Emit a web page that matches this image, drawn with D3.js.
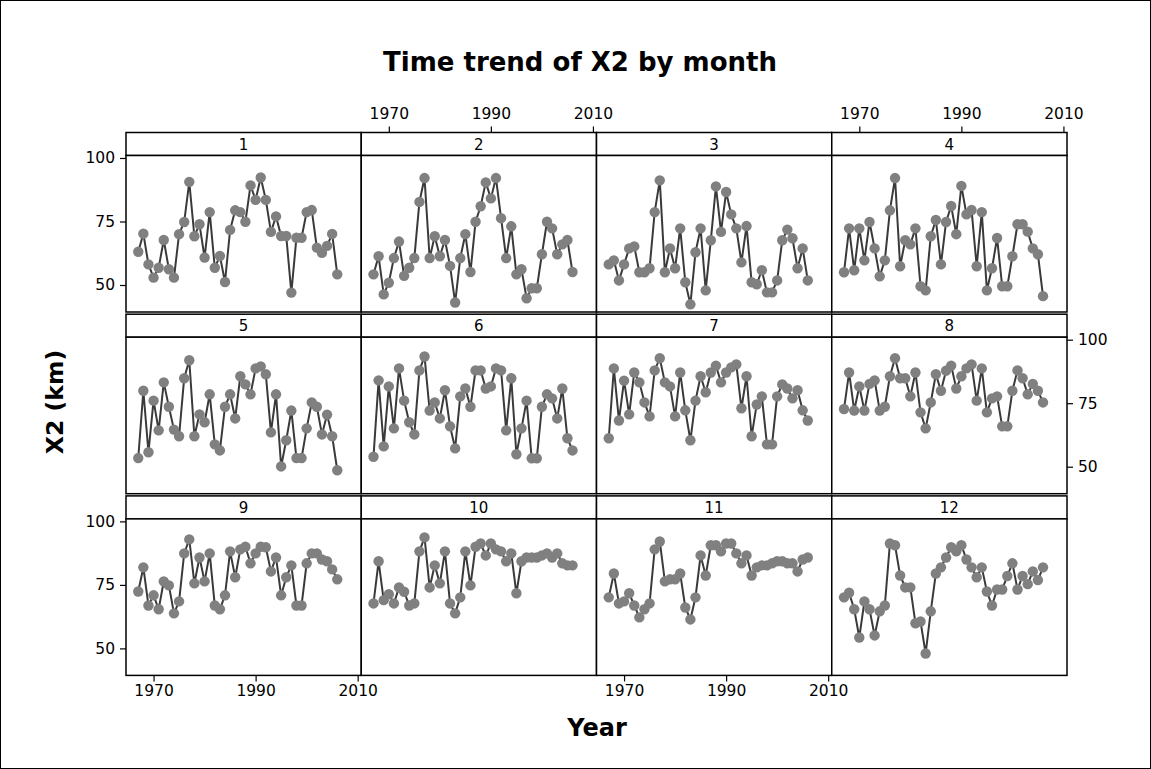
<!DOCTYPE html>
<html><head><meta charset="utf-8">
<script src="https://cdn.jsdelivr.net/npm/d3@7"></script>
<style>body{margin:0;background:#fff}svg{display:block}text{font-family:"DejaVu Sans",Verdana,sans-serif}</style>
</head><body><svg id="c" width="1151" height="769"></svg>
<script>
const years = [1967,1968,1969,1970,1971,1972,1973,1974,1975,1976,1977,1978,1979,1980,1981,1982,1983,1984,1985,1986,1987,1988,1989,1990,1991,1992,1993,1994,1995,1996,1997,1998,1999,2000,2001,2002,2003,2004,2005,2006];
const months = ["1","2","3","4","5","6","7","8","9","10","11","12"];
const m1 = [63.1,70.2,58.1,52.9,56.8,67.7,56.2,52.9,70.0,74.8,90.6,69.2,73.9,60.8,78.7,56.8,61.4,51.2,71.7,79.4,78.7,74.9,89.2,83.5,92.3,83.5,70.9,77.0,69.3,69.3,47.0,68.6,68.6,78.7,79.5,64.7,62.7,65.4,70.1,54.2];
const m2 = [54.2,61.3,46.3,50.9,60.6,67.1,53.6,56.8,60.6,82.7,92.1,60.6,69.2,61.3,67.7,57.5,43.1,60.6,70.0,55.1,74.9,81.0,90.4,84.1,92.1,76.3,60.6,73.1,54.2,56.2,44.8,48.7,48.7,62.1,74.9,72.3,62.1,66.0,67.7,55.1];
const m3 = [58.1,59.7,51.8,58.1,64.4,65.2,55.0,55.0,56.6,78.7,91.2,55.0,64.4,56.6,72.3,51.1,42.4,62.9,72.3,47.9,67.6,88.8,70.9,86.6,77.8,72.3,58.9,73.2,51.1,50.3,55.8,47.1,47.1,51.8,67.6,71.8,68.4,56.6,64.4,51.8];
const m4 = [55.0,72.3,55.8,72.3,59.7,74.8,64.4,53.4,59.7,79.4,92.1,57.4,67.6,66.0,72.3,49.5,47.9,69.2,75.6,58.1,74.8,81.1,70.0,89.0,77.8,79.5,57.4,78.7,47.9,56.6,68.5,49.5,49.5,61.3,73.9,73.9,71.0,64.4,62.1,45.6];
const m5 = [53.4,79.9,55.7,76.0,64.3,83.2,73.6,64.6,62.0,84.8,91.9,62.0,70.6,67.5,78.5,58.8,56.4,73.6,78.5,69.0,85.6,82.4,78.5,88.7,89.5,86.4,63.5,78.5,50.1,60.4,72.1,53.4,53.4,65.1,75.3,73.6,62.7,70.5,62.0,48.6];
const m6 = [53.9,84.0,58.0,81.6,65.1,88.7,76.0,67.5,62.7,87.9,93.4,72.1,75.3,69.0,80.1,65.9,57.2,77.7,80.8,73.6,87.9,87.9,80.8,81.6,88.7,87.9,64.3,84.8,54.9,65.1,76.0,53.3,53.3,73.6,78.5,76.9,69.0,80.8,61.2,56.4];
const m7 = [61.2,88.7,68.2,83.9,70.6,87.1,83.2,75.3,69.8,87.9,92.7,83.2,81.6,69.8,87.1,72.2,60.4,76.0,85.6,79.3,87.1,89.8,83.2,87.1,89.1,90.3,73.0,85.6,62.0,74.5,77.7,58.8,58.8,77.7,82.4,80.8,76.9,80.1,72.2,68.2];
const m8 = [72.7,87.1,72.1,81.6,72.1,82.6,84.0,72.1,73.6,85.6,92.7,84.8,84.8,77.7,87.1,71.4,65.1,75.3,86.4,79.9,87.8,89.8,80.8,85.6,88.7,90.3,76.0,88.7,71.4,76.9,77.7,65.9,65.9,79.9,87.9,84.8,78.5,82.6,79.9,75.3];
const m9 = [72.4,81.9,66.9,70.9,65.4,76.4,74.8,63.8,68.5,87.4,92.9,75.6,85.8,76.4,87.4,66.9,65.4,70.9,88.2,78.0,89.0,90.0,83.5,87.4,90.0,89.8,80.3,85.8,70.9,78.0,82.7,66.9,66.9,83.5,87.4,87.4,85.0,84.3,81.1,77.2];
const m10 = [67.7,84.3,69.0,71.3,67.7,74.0,72.3,66.9,67.7,88.2,93.7,74.0,82.7,75.6,88.2,67.7,63.8,70.1,88.2,74.8,90.0,91.3,86.6,91.3,89.0,88.2,84.3,87.4,71.7,84.3,85.8,85.8,85.8,86.6,87.4,85.8,87.4,83.5,82.7,82.7];
const m11 = [70.1,79.5,67.7,68.5,71.7,66.9,62.2,65.4,67.7,89.0,92.1,76.4,77.2,77.2,79.5,66.1,61.4,70.1,86.6,78.7,90.6,90.6,88.2,91.3,91.3,87.4,83.5,86.6,78.7,81.9,82.7,82.7,83.5,84.3,84.3,83.5,83.5,80.3,85.0,85.8];
const m12 = [70.1,71.9,65.4,54.3,68.5,65.4,55.1,64.6,66.9,91.3,90.6,78.7,74.0,74.0,59.9,60.6,48.0,64.6,79.5,81.9,85.8,89.8,88.2,90.6,85.0,81.9,78.0,81.9,72.4,66.9,73.2,73.2,78.5,83.5,73.2,78.5,75.3,80.3,76.9,81.9];
const series = [m1,m2,m3,m4,m5,m6,m7,m8,m9,m10,m11,m12];
const xTicks = [1970, 1990, 2010];
const yTicks = [50, 75, 100];
const titleText = "Time trend of X2 by month";
const xLabel = "Year";
const yLabel = "X2 (km)";

const svg = d3.select("#c");
svg.append("rect").attr("x",0.5).attr("y",0.5).attr("width",1150).attr("height",768)
  .attr("fill","#fff").attr("stroke","#000").attr("stroke-width",1);

const gridLeft = 126, gridRight = 1067;
const colW = (gridRight - gridLeft) / 4;
const rowTop = [132.5, 314.2, 495.9];
const stripH = 23, panelH = 156.5;

const x = d3.scaleLinear().domain([1964.6, 2010.7]).range([0, colW]);
const y = d3.scaleLinear().domain([39.37, 100.98]).range([panelH, 0]);
const line = d3.line().x((d,i)=>x(years[i])).y(d=>y(d));

months.forEach((m, k) => {
  const c = k % 4, r = Math.floor(k / 4);
  const gx = gridLeft + c * colW, gy = rowTop[r];
  const g = svg.append("g").attr("transform", `translate(${gx},${gy})`);
  g.append("rect").attr("x",0).attr("y",0).attr("width",colW).attr("height",stripH)
    .attr("fill","#fff").attr("stroke","#000").attr("stroke-width",1.5);
  g.append("text").attr("x",colW/2).attr("y",stripH/2+5.5).attr("text-anchor","middle")
    .attr("font-size",15).attr("fill","#000").text(m);
  const p = g.append("g").attr("transform", `translate(0,${stripH})`);
  p.append("rect").attr("x",0).attr("y",0).attr("width",colW).attr("height",panelH)
    .attr("fill","#fff").attr("stroke","#000").attr("stroke-width",1.5);
  p.append("path").datum(series[k]).attr("d", line).attr("fill","none")
    .attr("stroke","#3a3a3a").attr("stroke-width",2);
  p.selectAll("circle").data(series[k]).join("circle")
    .attr("cx",(d,i)=>x(years[i])).attr("cy",d=>y(d)).attr("r",5.2)
    .attr("fill","#808080");
  const styleAxis = a => {
    a.select(".domain").remove();
    a.selectAll("line").attr("stroke","#000").attr("stroke-width",1.2);
    a.selectAll("text").attr("font-size",15.5).attr("fill","#000")
      .attr("font-family",'"DejaVu Sans",Verdana,sans-serif');
  };
  if (r === 2 && (c === 0 || c === 2)) {
    p.append("g").attr("transform",`translate(0,${panelH})`)
      .call(d3.axisBottom(x).tickValues(xTicks).tickSize(6).tickPadding(4).tickFormat(d3.format("d")))
      .call(styleAxis);
  }
  if (r === 0 && (c === 1 || c === 3)) {
    g.append("g").attr("transform",`translate(0,0)`)
      .call(d3.axisTop(x).tickValues(xTicks).tickSize(6).tickPadding(8).tickFormat(d3.format("d")))
      .call(styleAxis);
  }
  if ((r === 0 || r === 2) && c === 0) {
    p.append("g").call(d3.axisLeft(y).tickValues(yTicks).tickSize(6).tickPadding(5))
      .call(styleAxis);
  }
  if (r === 1 && c === 3) {
    p.append("g").attr("transform",`translate(${colW},0)`)
      .call(d3.axisRight(y).tickValues(yTicks).tickSize(6).tickPadding(5))
      .call(styleAxis);
  }
});

svg.append("text").attr("x",580).attr("y",71).attr("text-anchor","middle")
  .attr("font-size",26).attr("font-weight","bold").attr("fill","#000").text(titleText);
svg.append("text").attr("x",597).attr("y",736).attr("text-anchor","middle")
  .attr("font-size",24).attr("font-weight","bold").attr("fill","#000").text(xLabel);
svg.append("text").attr("transform","translate(63,402) rotate(-90)").attr("text-anchor","middle")
  .attr("font-size",23.5).attr("font-weight","bold").attr("fill","#000").text(yLabel);
</script></body></html>
